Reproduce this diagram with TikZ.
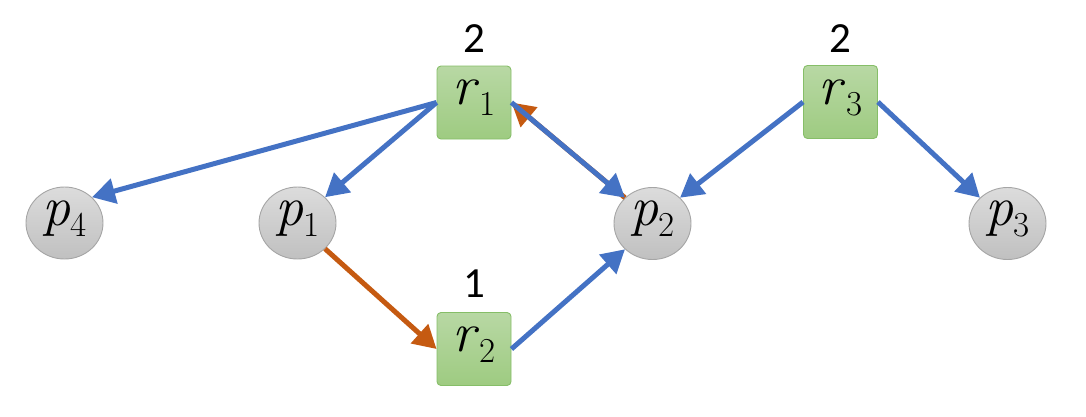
\documentclass[tikz,border=0pt]{standalone}
\usepackage{fontspec}
\newfontfamily\numfont{Carlito}
\usetikzlibrary{arrows.meta,shapes.geometric}
\newcommand\vsub[2]{\textit{#1}\kern0.5pt\raisebox{-0.2em}{\fontsize{35}{40}\selectfont #2}}
\definecolor{eblue}{RGB}{68,114,196}
\definecolor{eorange}{RGB}{197,90,17}
\definecolor{gtop}{RGB}{184,216,164}
\definecolor{gbot}{RGB}{158,203,129}
\definecolor{gline}{RGB}{134,190,104}
\definecolor{ctop}{RGB}{220,220,220}
\definecolor{cbot}{RGB}{192,192,192}
\definecolor{cline}{RGB}{165,165,165}
\tikzset{
  rbox/.style={rectangle, rounded corners=4pt, draw=gline, line width=0.9pt,
    top color=gtop, bottom color=gbot, minimum width=74pt, minimum height=73pt,
    inner sep=0pt, font=\fontsize{56}{64}\selectfont, text height=1ex, text depth=0pt},
  pnode/.style={ellipse, draw=cline, line width=0.9pt, top color=ctop, bottom color=cbot,
    minimum width=77pt, minimum height=72pt, inner sep=0pt, font=\fontsize{56}{64}\selectfont,
    text height=1ex, text depth=0pt},
  cnt/.style={font=\numfont\fontsize{43}{50}\selectfont, inner sep=0pt},
  barrow/.style={draw=eblue, line width=5pt, -{Triangle[length=23pt,width=25pt]}},
  oarrow/.style={draw=eorange, line width=5pt, -{Triangle[length=23pt,width=25pt]}}
}
\begin{document}
\begin{tikzpicture}[x=1pt,y=-1pt]
\useasboundingbox (0,0) rectangle (1086,416);
\node[rbox] (r1) at (474,102.5) {\vsub{r}{1}};
\node[rbox] (r2) at (474,349) {\vsub{r}{2}};
\node[rbox] (r3) at (840.5,102) {\vsub{r}{3}};
\node[pnode] (p4) at (64.5,223) {\vsub{p}{4}};
\node[pnode] (p1) at (297.5,223) {\vsub{p}{1}};
\node[pnode] (p2) at (652.5,223.5) {\vsub{p}{2}};
\node[pnode] (p3) at (1007.5,223.5) {\vsub{p}{3}};
\node[cnt] (c1) at (474,39) {2};
\node[cnt] (c2) at (474,284) {1};
\node[cnt] (c3) at (840.5,39) {2};
\draw[barrow] (r1.west) -- (p4.north east);
\draw[barrow] (r1.west) -- (p1.north east);
\draw[oarrow] (p2.north west) -- (r1.east);
\draw[barrow] (r1.east) -- (p2.north west);
\draw[oarrow] (p1.south east) -- (r2.west);
\draw[barrow] (r2.east) -- (p2.south west);
\draw[barrow] (r3.west) -- (p2.north east);
\draw[barrow] (r3.east) -- (p3.north west);
\end{tikzpicture}
\end{document}
